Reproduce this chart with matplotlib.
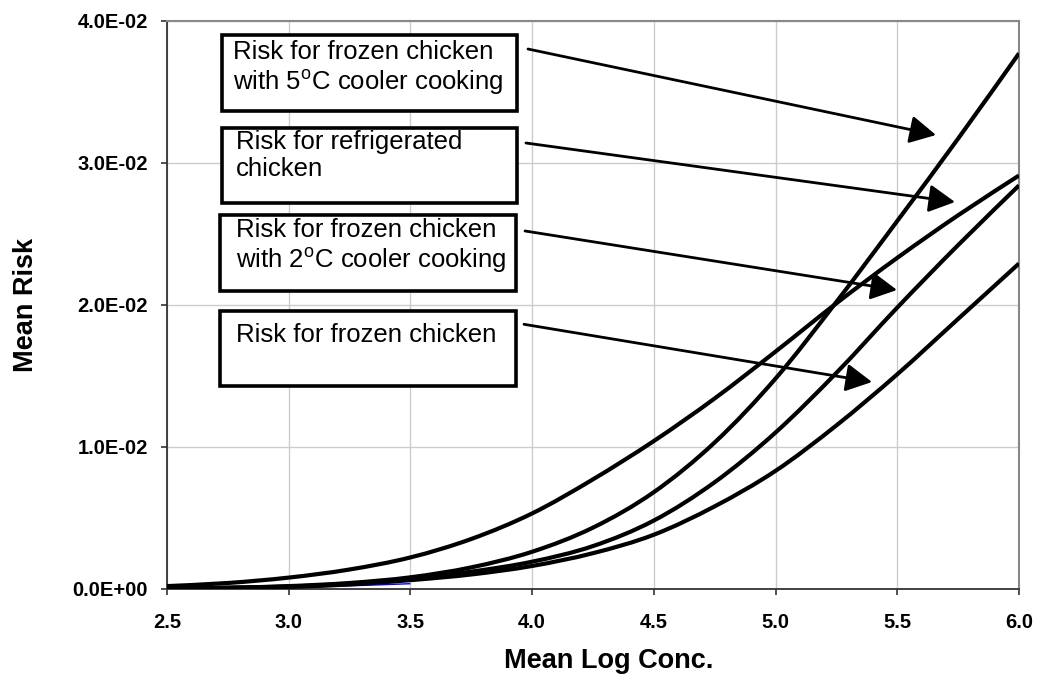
import matplotlib
matplotlib.use("Agg")
import matplotlib.pyplot as plt
from matplotlib.patches import Rectangle, PathPatch
from matplotlib.path import Path
from matplotlib.ticker import FuncFormatter

plt.rcParams['font.family'] = ['Liberation Sans', 'DejaVu Sans']
plt.rcParams['mathtext.fontset'] = 'custom'
plt.rcParams['mathtext.rm'] = 'Liberation Sans'

# Mean log concentration (x) and mean risk for each scenario
log_conc = [2.5, 2.75, 3.0, 3.25, 3.5, 3.75, 4.0, 4.25, 4.5, 4.75, 5.0, 5.25, 5.5, 5.75, 6.0]
risk_refrigerated = [0.00018, 0.0004, 0.00078, 0.00135, 0.0022, 0.0035, 0.0053, 0.0077,
                     0.0104, 0.0134, 0.0167, 0.0201, 0.0233, 0.0263, 0.0291]
risk_frozen_5c = [0.00003, 0.00007, 0.00018, 0.0004, 0.0008, 0.0015, 0.0026, 0.0043,
                  0.0068, 0.0103, 0.0148, 0.0202, 0.0259, 0.0317, 0.0377]
risk_frozen_2c = [0.00002, 0.00006, 0.00015, 0.00035, 0.0007, 0.0012, 0.0019, 0.0030,
                  0.0048, 0.0075, 0.0110, 0.0152, 0.0198, 0.0242, 0.0284]
risk_frozen = [0.00002, 0.00005, 0.00013, 0.0003, 0.0006, 0.0010, 0.0016, 0.0025,
               0.0038, 0.0058, 0.0083, 0.0115, 0.0151, 0.0190, 0.0229]
# short baseline series that only runs over the low end
base_conc = [2.5, 2.75, 3.0, 3.25, 3.5]
risk_base = [0.00002, 0.00004, 0.00008, 0.0002, 0.00035]

x_ticks = [2.5, 3.0, 3.5, 4.0, 4.5, 5.0, 5.5, 6.0]
y_ticks = [0.0, 0.01, 0.02, 0.03, 0.04]

box_labels = [
    "Risk for frozen chicken\nwith 5$^{\\mathrm{o}}$C cooler cooking",
    "Risk for refrigerated\nchicken",
    "Risk for frozen chicken\nwith 2$^{\\mathrm{o}}$C cooler cooking",
    "Risk for frozen chicken",
]


def smooth_path(xs, ys):
    """Smoothed line through the points (Catmull-Rom as cubic Beziers)."""
    pts = list(zip(xs, ys))
    n = len(pts)
    verts = [pts[0]]
    codes = [Path.MOVETO]
    for i in range(n - 1):
        p0 = pts[i - 1] if i > 0 else pts[i]
        p1 = pts[i]
        p2 = pts[i + 1]
        p3 = pts[i + 2] if i + 2 < n else pts[i + 1]
        c1 = (p1[0] + (p2[0] - p0[0]) / 6, p1[1] + (p2[1] - p0[1]) / 6)
        c2 = (p2[0] - (p3[0] - p1[0]) / 6, p2[1] - (p3[1] - p1[1]) / 6)
        verts += [c1, c2, p2]
        codes += [Path.CURVE4, Path.CURVE4, Path.CURVE4]
    return Path(verts, codes)


fig = plt.figure(figsize=(10.43, 6.75), dpi=100)
ax = fig.add_axes([0.1601, 0.1279, 0.8169, 0.8414])

ax.add_patch(PathPatch(smooth_path(base_conc, risk_base), facecolor='none',
                       edgecolor='#0000FF', lw=1.0, zorder=2))
for series in (risk_refrigerated, risk_frozen_5c, risk_frozen_2c, risk_frozen):
    ax.add_patch(PathPatch(smooth_path(log_conc, series), facecolor='none',
                           edgecolor='black', lw=3.0, capstyle='butt',
                           joinstyle='round', zorder=3))

ax.set_xlim(2.5, 6.0)
ax.set_ylim(0, 0.04)
ax.set_xticks(x_ticks)
ax.set_yticks(y_ticks)
ax.xaxis.set_major_formatter(FuncFormatter(lambda v, p: f"{v:.1f}"))
ax.yaxis.set_major_formatter(FuncFormatter(lambda v, p: f"{v:.1E}"))

ax.grid(True, color='#cccccc', lw=1.0, zorder=0)
ax.set_axisbelow(True)
ax.tick_params(axis='both', direction='out', length=4.5, width=1.2, color='#333333',
               labelsize=14.5)
ax.tick_params(axis='x', pad=13)
ax.tick_params(axis='y', pad=9)
for lab in ax.get_xticklabels() + ax.get_yticklabels():
    lab.set_fontweight('bold')

ax.spines['left'].set_color('#333333')
ax.spines['bottom'].set_color('#333333')
ax.spines['left'].set_linewidth(1.3)
ax.spines['bottom'].set_linewidth(1.3)
ax.spines['top'].set_color('#888888')
ax.spines['right'].set_color('#888888')
ax.spines['top'].set_linewidth(1.5)
ax.spines['right'].set_linewidth(1.5)

fig.text(609 / 1043, 1 - 668.3 / 675, "Mean Log Conc.", ha='center', va='baseline',
         fontsize=19.5, fontweight='bold')
fig.text(26 / 1043, 1 - 304.7 / 675, "Mean Risk", ha='center', va='center',
         rotation=90, fontsize=19.5, fontweight='bold')

# label boxes (axes fraction: left, bottom, right, top) and text anchor
boxes = [
    (0.0646, 0.8407, 0.4108, 0.9752),
    (0.0646, 0.6791, 0.4108, 0.8111),
    (0.0622, 0.5241, 0.4096, 0.6579),
    (0.0622, 0.3568, 0.4096, 0.4889),
]
text_anchor = [(0.0775, 0.9660), (0.0810, 0.8075), (0.0810, 0.6526), (0.0810, 0.4670)]
arrows = [
    ((0.4237, 0.9502), (0.9026, 0.7988)),
    ((0.4213, 0.7847), (0.9249, 0.6808)),
    ((0.4202, 0.6298), (0.8568, 0.5259)),
    ((0.4190, 0.4655), (0.8275, 0.3639)),
]

for (l, b, r, t), (tx, ty), label in zip(boxes, text_anchor, box_labels):
    ax.add_patch(Rectangle((l, b), r - l, t - b, transform=ax.transAxes,
                           facecolor='white', edgecolor='black', lw=2.6, zorder=5))
    ax.text(tx, ty, label, transform=ax.transAxes, ha='left', va='top',
            fontsize=18.5, linespacing=1.15, zorder=6)

for start, tip in arrows:
    ax.annotate('', xy=tip, xytext=start, xycoords='axes fraction',
                textcoords='axes fraction',
                arrowprops=dict(arrowstyle='-|>,head_length=1.6,head_width=0.85',
                                mutation_scale=10, lw=2.0, color='black',
                                shrinkA=0, shrinkB=0),
                zorder=7)

fig.savefig("out.png", dpi=100)
